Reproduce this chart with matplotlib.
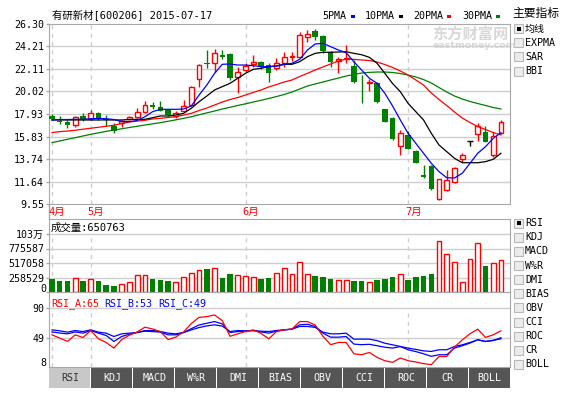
import numpy as np
import matplotlib.pyplot as plt
from matplotlib.patches import Rectangle
from matplotlib.transforms import blended_transform_factory

W, H = 571, 393
RED, GREEN, BLUE = '#ff0000', '#008000', '#0000ff'
GRID, BORDER = '#cfcfcf', '#a8a8a8'
MONO = ['DejaVu Sans Mono', 'Noto Sans CJK SC']
plt.rcParams['font.family'] = MONO

# ---- daily bars 2015-04-24 .. 2015-07-17 ----
opens = [17.77, 17.30, 17.18, 16.87, 17.74, 17.46, 18.02, 17.50, 16.81, 17.09,
         17.46, 17.67, 18.14, 18.76, 18.53, 18.30, 17.74, 18.25, 18.76, 21.15,
         22.70, 22.64, 23.44, 23.51, 21.34, 22.02, 22.55, 22.76, 22.48, 22.18,
         22.64, 23.20, 23.20, 25.06, 25.65, 25.18, 23.67, 22.86, 23.00, 22.39,
         20.67, 20.78, 20.78, 18.36, 17.52, 14.92, 15.94, 14.48, 12.25, 13.09,
         9.99, 10.85, 11.57, 13.71, 15.44, 16.06, 16.22, 14.11, 16.13]
highs = [17.90, 17.70, 17.37, 17.74, 18.02, 18.30, 18.11, 17.80, 17.06, 17.41,
         17.74, 18.44, 19.16, 19.07, 19.18, 18.34, 18.25, 19.23, 20.53, 22.58,
         23.88, 23.95, 23.88, 23.63, 22.33, 22.70, 23.42, 22.86, 22.67, 23.11,
         23.72, 23.72, 25.58, 25.74, 25.83, 25.28, 23.79, 23.20, 24.35, 22.95,
         21.55, 21.15, 20.93, 18.39, 17.67, 16.39, 16.34, 14.53, 13.18, 13.18,
         11.88, 12.76, 13.02, 14.27, 15.44, 17.11, 16.81, 16.25, 17.37]
lows = [17.35, 16.97, 16.62, 16.72, 17.27, 17.37, 17.41, 16.80, 16.16, 16.74,
        17.37, 17.55, 18.02, 18.36, 18.16, 17.74, 17.55, 18.16, 18.67, 20.46,
        22.18, 21.86, 23.01, 21.09, 19.91, 21.86, 22.33, 22.08, 20.93, 22.02,
        22.33, 22.88, 23.11, 24.65, 24.81, 23.57, 22.33, 21.71, 22.64, 20.84,
        18.92, 20.09, 18.92, 17.18, 15.51, 14.11, 14.67, 13.32, 12.01, 10.85,
        9.89, 10.79, 11.48, 13.49, 14.97, 15.44, 15.35, 13.95, 16.06]
closes = [17.43, 17.22, 16.87, 17.62, 17.34, 18.02, 17.46, 17.40, 16.30, 17.32,
          17.60, 18.11, 18.73, 18.62, 18.25, 17.86, 18.05, 18.67, 20.41, 22.48,
          22.62, 23.57, 23.20, 21.28, 21.83, 22.39, 22.74, 22.27, 21.77, 22.64,
          23.20, 23.32, 25.28, 25.37, 25.06, 23.82, 22.79, 23.00, 23.11, 20.93,
          20.58, 20.90, 19.07, 17.21, 15.60, 16.13, 14.70, 13.34, 12.03, 10.92,
          11.85, 11.78, 12.87, 14.11, 15.44, 16.85, 15.35, 15.88, 17.15]
volumes = [237000, 201000, 201000, 244000, 201000, 232000, 201000, 125000, 107000, 137000,
           173000, 298000, 298000, 237000, 214000, 201000, 173000, 267000, 333000, 387000,
           415000, 428000, 255000, 321000, 298000, 285000, 267000, 237000, 255000, 333000,
           428000, 316000, 530000, 316000, 285000, 267000, 232000, 209000, 209000, 196000,
           196000, 173000, 214000, 232000, 267000, 316000, 214000, 267000, 285000, 321000,
           909000, 672000, 530000, 173000, 588000, 868000, 464000, 512000, 571000]

ma5 = [17.37, 17.41, 17.41, 17.43, 17.43, 17.49, 17.51, 17.49, 17.41, 17.23,
       17.21, 17.32, 17.67, 18.14, 18.36, 18.36, 18.36, 18.39, 18.67, 19.69,
       20.62, 21.71, 22.55, 22.58, 22.48, 22.48, 22.42, 22.33, 22.33, 22.39,
       22.55, 22.64, 23.01, 23.88, 24.44, 24.50, 24.19, 23.88, 23.63, 22.79,
       22.02, 21.25, 20.78, 19.85, 18.67, 17.37, 16.13, 15.20, 14.27, 13.34,
       12.56, 11.99, 11.97, 12.41, 13.34, 14.27, 14.88, 15.66, 16.18]
ma10 = [17.37, 17.37, 17.37, 17.37, 17.37, 17.37, 17.37, 17.37, 17.37, 17.37,
        17.41, 17.43, 17.43, 17.58, 17.74, 17.74, 17.83, 17.99, 18.46, 19.07,
        19.60, 20.16, 20.47, 20.78, 21.25, 21.71, 22.08, 22.18, 22.33, 22.39,
        22.55, 22.55, 22.79, 23.26, 23.57, 23.67, 23.67, 23.69, 23.72, 23.57,
        23.44, 23.20, 22.64, 21.71, 20.76, 20.00, 18.92, 18.14, 17.37, 16.13,
        15.04, 14.42, 13.80, 13.39, 13.39, 13.39, 13.49, 13.71, 14.27]
ma20 = [16.20, 16.28, 16.34, 16.41, 16.51, 16.60, 16.69, 16.78, 16.88, 17.04,
        17.18, 17.27, 17.34, 17.46, 17.52, 17.60, 17.67, 17.83, 17.99, 18.25,
        18.48, 18.76, 19.04, 19.27, 19.46, 19.69, 19.93, 20.16, 20.44, 20.67,
        20.90, 21.09, 21.41, 21.71, 22.02, 22.30, 22.58, 22.86, 23.04, 23.01,
        22.95, 22.90, 22.76, 22.53, 22.25, 21.93, 21.55, 21.09, 20.62, 19.88,
        19.27, 18.71, 18.11, 17.55, 17.13, 16.76, 16.48, 16.20, 15.97]
ma30 = [15.27, 15.41, 15.57, 15.72, 15.88, 16.03, 16.17, 16.31, 16.44, 16.55,
        16.67, 16.78, 16.90, 17.01, 17.12, 17.25, 17.38, 17.52, 17.67, 17.85,
        18.03, 18.20, 18.39, 18.55, 18.72, 18.87, 19.04, 19.20, 19.37, 19.55,
        19.74, 19.97, 20.25, 20.53, 20.72, 20.90, 21.09, 21.27, 21.46, 21.60,
        21.74, 21.80, 21.83, 21.83, 21.79, 21.69, 21.55, 21.37, 21.13, 20.81,
        20.39, 19.97, 19.60, 19.32, 19.09, 18.90, 18.72, 18.53, 18.39]

rsi_a = [53.5, 49.0, 44.5, 53.5, 49.8, 59.4, 48.0, 43.0, 35.3, 47.0,
         53.0, 57.5, 64.0, 61.5, 58.0, 47.0, 50.5, 57.5, 69.0, 77.5,
         78.5, 80.8, 73.0, 51.5, 54.9, 58.0, 60.3, 55.5, 48.0, 58.0,
         60.5, 61.5, 71.7, 71.7, 67.0, 51.5, 40.0, 43.0, 43.0, 27.5,
         26.2, 29.3, 22.5, 18.0, 15.7, 21.7, 18.0, 16.2, 14.0, 12.5,
         23.8, 23.8, 36.7, 46.5, 55.0, 61.3, 50.0, 53.5, 59.0]
rsi_b = [57.5, 56.0, 54.9, 57.5, 55.8, 59.4, 55.8, 52.6, 44.4, 51.2,
         54.4, 56.7, 58.5, 58.0, 57.2, 53.5, 53.5, 56.7, 62.0, 67.0,
         69.4, 71.7, 68.5, 56.7, 58.0, 58.5, 59.4, 57.5, 55.8, 58.5,
         60.3, 61.3, 67.2, 68.0, 65.0, 55.8, 50.3, 50.3, 51.2, 40.8,
         40.0, 40.5, 38.5, 36.5, 35.3, 37.5, 33.0, 30.5, 27.5, 24.0,
         26.2, 26.2, 35.3, 38.5, 42.2, 46.7, 44.4, 45.7, 49.5]
rsi_c = [60.3, 59.0, 57.2, 59.4, 58.0, 60.3, 57.2, 55.8, 51.2, 54.9,
         55.8, 56.7, 59.4, 59.4, 58.0, 55.8, 54.9, 56.7, 60.3, 63.5,
         65.8, 67.2, 65.5, 58.0, 59.4, 59.0, 59.4, 58.5, 58.0, 59.5,
         60.3, 61.3, 65.0, 65.0, 63.7, 57.2, 54.9, 54.9, 55.8, 47.6,
         47.6, 47.6, 45.5, 42.0, 39.8, 37.5, 35.3, 33.5, 31.5, 30.7,
         33.0, 33.0, 37.5, 39.8, 43.0, 46.7, 44.4, 46.0, 48.0]

price_ticks = [26.30, 24.21, 22.11, 20.02, 17.93, 15.83, 13.74, 11.64, 9.55]
vol_ticks = [0, 258529, 517058, 775587, 1034116]
vol_labels = ['', '258529', '517058', '775587', '103万']
rsi_ticks = [90, 49]
month_pos = [0, 5, 25, 46]
month_labels = ['4月', '5月', '6月', '7月']
main_inds = ['均线', 'EXPMA', 'SAR', 'BBI']
sub_inds = ['RSI', 'KDJ', 'MACD', 'W%R', 'DMI', 'BIAS', 'OBV', 'CCI', 'ROC', 'CR', 'BOLL']
ma_names = ['5PMA', '10PMA', '20PMA', '30PMA']
ma_colors = [BLUE, 'black', RED, GREEN]


def px(l, t, r, b):
    return [l / W, 1 - b / H, (r - l) / W, (b - t) / H]


fig = plt.figure(figsize=(W / 100, H / 100), dpi=100)
fig.patch.set_facecolor('white')

# overlay in pixel coordinates for frame texts / widgets
ov = fig.add_axes([0, 0, 1, 1], zorder=0)
ov.set_xlim(0, W)
ov.set_ylim(H, 0)
ov.axis('off')

ax_p = fig.add_axes(px(49, 24, 510, 204), zorder=1)
ax_v = fig.add_axes(px(49, 219, 510, 292), zorder=1)
ax_r = fig.add_axes(px(49, 292, 510, 367), zorder=1)

o, h, l, c = map(np.array, (opens, highs, lows, closes))
v = np.array(volumes)
n = len(c)
x = np.arange(n)
up, dn, flat = c > o, c < o, c == o
xlim = (-0.39, n + 0.17)

for ax in (ax_p, ax_v, ax_r):
    ax.set_facecolor('none')
    ax.set_xlim(*xlim)
    ax.set_xticks([])
    for s in ax.spines.values():
        s.set_color(BORDER)
    ax.tick_params(axis='y', length=2, width=1, color=BORDER, pad=1.5, labelsize=7.2)

# ---- price panel ----
ax_p.set_ylim(9.55, 26.30)
ax_p.set_yticks(price_ticks)
ax_p.set_yticklabels(['%.2f' % t for t in price_ticks])
for t in price_ticks[1:-1]:
    ax_p.axhline(t, color=GRID, lw=1, zorder=0)
for m in month_pos:
    ax_p.axvline(m, color=GRID, lw=1, ls=(0, (3, 3)), zorder=0)

ax_p.vlines(x[up], l[up], h[up], color=RED, lw=1, zorder=2)
ax_p.bar(x[up], c[up] - o[up], bottom=o[up], width=0.62, facecolor='white',
         edgecolor=RED, lw=1, zorder=3)
ax_p.vlines(x[dn], l[dn], h[dn], color=GREEN, lw=1, zorder=2)
ax_p.bar(x[dn], np.maximum(o[dn] - c[dn], 0.08), bottom=c[dn], width=0.7,
         color=GREEN, lw=0, zorder=3)
ax_p.vlines(x[flat], l[flat], h[flat], color='black', lw=1, zorder=2)
ax_p.hlines(o[flat], x[flat] - 0.38, x[flat] + 0.38, color='black', lw=1, zorder=3)

for ma, col in zip([ma30, ma20, ma10, ma5], ma_colors[::-1]):
    ax_p.plot(x, ma, color=col, lw=0.9, zorder=4)

# ---- volume panel ----
vtop = vol_ticks[-1] * 73 / 58
ax_v.set_ylim(0, vtop)
ax_v.set_yticks(vol_ticks)
ax_v.set_yticklabels(vol_labels)
for t in vol_ticks[1:]:
    ax_v.axhline(t, color=GRID, lw=1, zorder=0)
ax_v.vlines(month_pos, 0, vol_ticks[-1], color=GRID, lw=1, ls=(0, (3, 3)), zorder=0)
vup = c >= o
ax_v.bar(x[vup], v[vup], width=0.62, facecolor='white', edgecolor=RED, lw=1, zorder=3)
ax_v.bar(x[~vup], v[~vup], width=0.7, color=GREEN, lw=0, zorder=3)
ov.text(46.5, 289.5, '0', ha='right', va='center', fontsize=7.2, zorder=5)

# ---- RSI panel ----
ax_r.set_ylim(9.35, 112.3)
ax_r.set_yticks(rsi_ticks)
ax_r.set_yticklabels([str(t) for t in rsi_ticks])
for t in rsi_ticks:
    ax_r.axhline(t, color=GRID, lw=1, zorder=0)
ax_r.vlines(month_pos, 9.35, 90, color=GRID, lw=1, ls=(0, (3, 3)), zorder=0)
ax_r.plot(x, rsi_c, color=BLUE, lw=0.9, zorder=3)
ax_r.plot(x, rsi_b, color=BLUE, lw=0.9, zorder=3)
ax_r.plot(x, rsi_a, color=RED, lw=0.9, zorder=4)
ov.text(46.5, 362.5, '8', ha='right', va='center', fontsize=7.2)

# ---- texts ----
ov.text(52, 15, '有研新材[600206] 2015-07-17', fontsize=7.5, va='center')
lx = [322.5, 365, 413, 462]
for xx, name, col in zip(lx, ma_names, ma_colors):
    ov.text(xx, 16, name, fontsize=7.2, va='center')
    w = 6.0 * len(name)
    ov.add_patch(Rectangle((xx + w + 4, 15), 4, 3, color=col, lw=0))

ov.text(51, 228, '成交量:650763', fontsize=7.5, va='center')
ov.text(51, 303.5, 'RSI_A:65', fontsize=7.2, va='center', color=RED)
ov.text(104, 303.5, 'RSI_B:53', fontsize=7.2, va='center', color=BLUE)
ov.text(158, 303.5, 'RSI_C:49', fontsize=7.2, va='center', color=BLUE)

mtr = blended_transform_factory(ax_p.transData, ov.transData)
for m, lab in zip(month_pos, month_labels):
    ov.text(m - 0.42, 211.5, lab, transform=mtr, fontsize=7.5, color=RED, va='center')
ov.plot([49, 49], [204, 219], color=BORDER, lw=1)

# watermark
ov.text(432, 33.5, '东方财富网', fontsize=11, color='#d8d8d8', fontweight='bold',
        family='Noto Sans CJK SC', va='center')
ov.text(433, 46, 'eastmoney.com', fontsize=6.8, color='#d8d8d8', fontweight='bold',
        family='DejaVu Sans', va='center')

# ---- right side widgets ----
ov.text(512, 14, '主要指标', fontsize=8.5, family='Noto Sans CJK SC', va='center')


def checkbox(y, label, checked):
    ov.add_patch(Rectangle((514, y - 4.5), 9, 9, facecolor='#ececec',
                           edgecolor='#b8b8b8', lw=0.8))
    if checked:
        ov.add_patch(Rectangle((516.5, y - 2), 4, 4, color='black', lw=0))
    ov.text(525, y, label, fontsize=7.2, va='center')


for k, lab in enumerate(main_inds):
    checkbox(28.5 + 14.2 * k, lab, k == 0)
for k, lab in enumerate(sub_inds):
    checkbox(223.3 + 14.1 * k, lab, k == 0)

# ---- bottom tabs ----
tw = (510.7 - 49.3) / len(sub_inds)
for k, lab in enumerate(sub_inds):
    x0 = 49.3 + k * tw
    sel = k == 0
    ov.add_patch(Rectangle((x0, 367.5), tw - 1, 20.5,
                           color='#c8c8c8' if sel else '#555555', lw=0))
    ov.text(x0 + tw / 2, 378, lab, ha='center', va='center', fontsize=7.2,
            color='#333333' if sel else 'white')

fig.savefig('out.png', dpi=100)
